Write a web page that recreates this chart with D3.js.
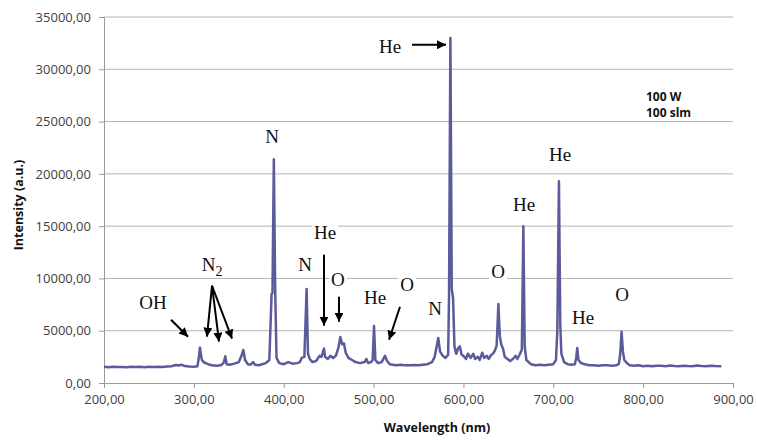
<!DOCTYPE html>
<html>
<head>
<meta charset="utf-8">
<script src="https://cdn.jsdelivr.net/npm/d3@7"></script>
<style>
  body { margin: 0; background: #fff; }
  svg { display: block; }
</style>
</head>
<body>
<svg id="chart" width="757" height="441"></svg>
<script>
// spectrum: wavelength (nm) and intensity (a.u.)
const wavelength = [
  200,205,210,215,220,225,230,235,240,245,250,255,260,265,270,275,280,283,286,290,295,300,
  304,305.5,306.8,308,309,311,313,316,320,325,330,333,335,336.5,340,345,350,353,355,357,360,363,366,368,372,376,380,384,
  386.5,387.5,389,390.5,392,395,400,405,410,415,418,420,423,425.5,427,429,432,436,440,442,444.8,446,449,452,455,458,
  461,463,465,467,469,472,476,480,485,490,492,494,497,499,500.5,502,505,509,512.7,515,518,525,530,535,540,545,550,555,
  560,565,568,570,572,574,577,580,583,584,585.5,587,588.5,590,592,594,596,598,600,603,605,608,611,613,616,618,621,623,
  626,628,631,633,635,637,638.9,640.5,642,644,646,649,652,655,658,660,663,665,666.7,668.2,670,675,680,685,690,695,700,
  703,704.5,706.3,707.8,709,712,716,720,724,725.5,726.7,728,731,735,740,745,750,755,760,765,770,773,774.5,776,777.5,
  779,782,785,790,795,800,805,810,815,820,825,830,835,840,845,850,855,860,865,870,875,880,887
];
const intensity = [
  1550,1500,1560,1520,1540,1500,1560,1520,1550,1510,1560,1530,1550,1520,1580,1600,1720,1680,1750,1620,1580,1560,
  1600,2400,3400,2600,2200,2000,1900,1800,1700,1650,1700,1900,2550,1800,1750,1850,2000,2600,3150,2200,1800,1750,2000,1750,1700,1800,1900,2200,
  8500,8600,21400,9000,2400,1900,1800,2000,1850,1900,2000,2400,2500,9000,2800,2300,2000,2100,2600,2500,3300,2500,2300,2600,2400,2600,
  3400,4400,3700,3800,2900,2400,2200,2000,1900,2000,2300,1900,2000,2200,5450,2200,1900,2000,2600,2100,1800,1700,1750,1700,1700,1720,1700,1750,
  1800,2000,2500,3400,4300,3000,2600,2400,2700,8500,33000,9000,8100,3500,2800,3300,3500,2700,2600,2300,2800,2400,2800,2300,2500,2200,2900,2400,
  2600,2300,2700,2800,3100,3600,7550,4500,3700,3300,2500,2300,2100,2300,2600,2300,2800,3200,15000,3500,2200,1800,1700,1750,1700,1750,1800,
  2200,5000,19300,5500,2800,2000,1800,1750,1800,2400,3350,2200,1900,1800,1700,1700,1650,1700,1700,1650,1700,1800,2800,4900,3000,
  2200,1900,1700,1650,1700,1600,1650,1600,1650,1650,1600,1680,1620,1600,1650,1620,1600,1680,1620,1600,1650,1620,1600
];

const xTicks = [200, 300, 400, 500, 600, 700, 800, 900];
const yTicks = [0, 5000, 10000, 15000, 20000, 25000, 30000, 35000];

// peak labels: text, wavelength, intensity (label centre)
const labelText = ['He', 'N', 'He', 'He', 'O', 'He', 'O', 'N', 'He', 'O', 'He', 'O', 'N', 'OH'];
const labelWl   = [518.3, 387, 707.5, 667.4, 638.5, 733.1, 776.5, 568.4, 501.6, 537.2, 446, 460.4, 423.7, 254.5];
const labelInt  = [32150, 23550, 21820, 17040, 10640, 6240, 8440, 7100, 8150, 9400, 14370, 9880, 11310, 7680];

// arrows: from (wl, int) to (wl, int)
const arrowFrom = [[542.8, 32340], [529.4, 7290], [444.8, 12270], [461.5, 8250], [320.2, 9300], [320.2, 9300], [320.2, 9300], [274.6, 6050]];
const arrowTo   = [[580.6, 32340], [517.2, 4140], [444.8, 5480], [461.5, 5860], [314.6, 4430], [328, 3950], [342.5, 4240], [293.5, 4430]];

const legendLines = ['100 W', '100 slm'];

const svg = d3.select('#chart');
const margin = { left: 104, right: 24, top: 17, bottom: 58 };
const W = 757, H = 441;

const x = d3.scaleLinear().domain([200, 900]).range([margin.left, W - margin.right]);
const y = d3.scaleLinear().domain([0, 35000]).range([H - margin.bottom, margin.top]);

const fmt = d => d3.format('.2f')(d).replace('.', ',');
const axisFont = "'Open Sans', sans-serif";

// gridlines
svg.append('g')
  .selectAll('line')
  .data(yTicks.slice(1))
  .join('line')
  .attr('x1', x(200)).attr('x2', x(900))
  .attr('y1', d => y(d)).attr('y2', d => y(d))
  .attr('stroke', '#b4b4b4').attr('stroke-width', 1);

// y axis
const yAxis = svg.append('g')
  .attr('transform', `translate(${x(200)},0)`)
  .call(d3.axisLeft(y).tickValues(yTicks).tickFormat(fmt).tickSize(5).tickPadding(8));
yAxis.select('.domain').attr('stroke', '#9a9a9a');
yAxis.selectAll('.tick line').attr('stroke', '#9a9a9a');
yAxis.selectAll('text').attr('font-family', axisFont).attr('font-size', 13).attr('fill', '#404040');

// x axis
const xAxis = svg.append('g')
  .attr('transform', `translate(0,${y(0)})`)
  .call(d3.axisBottom(x).tickValues(xTicks).tickFormat(fmt).tickSize(5).tickPadding(7));
xAxis.select('.domain').attr('stroke', '#9a9a9a');
xAxis.selectAll('.tick line').attr('stroke', '#9a9a9a');
xAxis.selectAll('text').attr('font-family', axisFont).attr('font-size', 13).attr('fill', '#404040');

// axis titles
svg.append('text')
  .attr('x', 437).attr('y', 432)
  .attr('text-anchor', 'middle')
  .attr('font-family', axisFont).attr('font-size', 12.5).attr('font-weight', 'bold')
  .attr('fill', '#111')
  .text('Wavelength (nm)');

svg.append('text')
  .attr('transform', 'translate(23,205) rotate(-90)')
  .attr('text-anchor', 'middle')
  .attr('font-family', axisFont).attr('font-size', 12.5).attr('font-weight', 'bold')
  .attr('fill', '#111')
  .text('Intensity (a.u.)');

// spectrum
const pts = wavelength.map((w, i) => [w, intensity[i]]);
svg.append('path')
  .datum(pts)
  .attr('fill', 'none')
  .attr('stroke', '#5b5b9b')
  .attr('stroke-width', 2.5)
  .attr('stroke-linejoin', 'round')
  .attr('d', d3.line().x(d => x(d[0])).y(d => y(d[1])));

// peak labels with white backing
const labels = svg.append('g');
labelText.forEach((t, i) => {
  const g = labels.append('g');
  const txt = g.append('text')
    .attr('x', x(labelWl[i])).attr('y', y(labelInt[i]))
    .attr('dy', '0.35em')
    .attr('text-anchor', 'middle')
    .attr('font-family', "'Liberation Serif', 'Times New Roman', serif")
    .attr('font-size', 19)
    .attr('fill', '#111')
    .text(t);
  const bb = txt.node().getBBox();
  g.insert('rect', 'text')
    .attr('x', bb.x - 2).attr('y', bb.y + 2)
    .attr('width', bb.width + 4).attr('height', bb.height - 3)
    .attr('fill', '#fff');
});

// N2 label with subscript
const n2 = svg.append('text')
  .attr('x', x(320.2)).attr('y', y(11310))
  .attr('dy', '0.35em')
  .attr('text-anchor', 'middle')
  .attr('font-family', "'Liberation Serif', 'Times New Roman', serif")
  .attr('font-size', 19)
  .attr('fill', '#111');
n2.append('tspan').text('N');
n2.append('tspan').attr('font-size', 14).attr('dy', '0.3em').text('2');

// arrows
svg.append('defs').append('marker')
  .attr('id', 'head')
  .attr('viewBox', '0 0 10 10')
  .attr('refX', 10).attr('refY', 5)
  .attr('markerWidth', 4.5).attr('markerHeight', 4.5)
  .attr('orient', 'auto')
  .attr('markerUnits', 'strokeWidth')
  .append('path')
  .attr('d', 'M0,0 L10,5 L0,10 Z')
  .attr('fill', '#000');

svg.append('g')
  .selectAll('line')
  .data(arrowFrom.map((f, i) => [f, arrowTo[i]]))
  .join('line')
  .attr('x1', d => x(d[0][0])).attr('y1', d => y(d[0][1]))
  .attr('x2', d => x(d[1][0])).attr('y2', d => y(d[1][1]))
  .attr('stroke', '#000').attr('stroke-width', 2)
  .attr('marker-end', 'url(#head)');

// legend note
svg.append('g')
  .selectAll('text')
  .data(legendLines)
  .join('text')
  .attr('x', 646).attr('y', (d, i) => 101 + i * 16)
  .attr('font-family', axisFont).attr('font-size', 12).attr('font-weight', 'bold')
  .attr('fill', '#111')
  .text(d => d);
</script>
</body>
</html>
